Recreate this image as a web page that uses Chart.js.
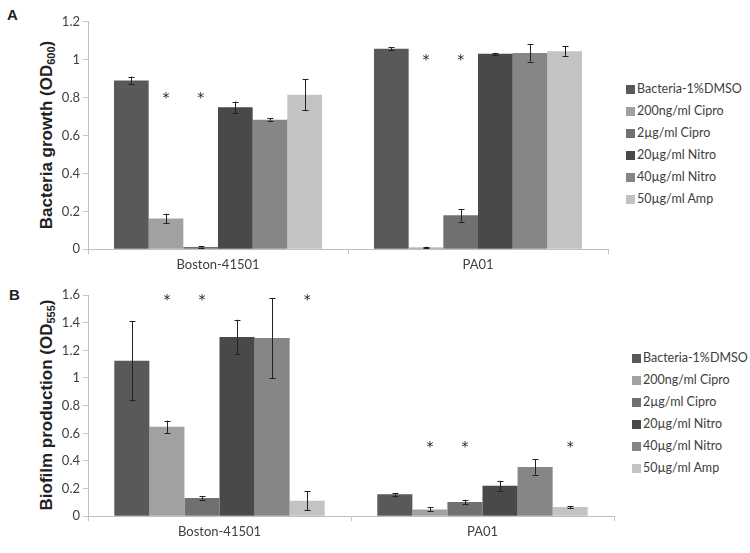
<!DOCTYPE html>
<html>
<head>
<meta charset="utf-8">
<script src="https://cdn.jsdelivr.net/npm/chart.js@4.4.0/dist/chart.umd.min.js"></script>
<style>
  body { margin: 0; background: #fff; width: 750px; height: 553px; position: relative; overflow: hidden; }
  canvas { position: absolute; left: 0; }
  #chartA { top: 0; }
  #chartB { top: 275px; }
  .panel { position: absolute; font-family: "Liberation Sans Narrow", "Liberation Sans", sans-serif; font-weight: bold; font-size: 15px; color: #222; }
  .ytitle { position: absolute; white-space: nowrap; transform: translate(-50%, -50%) rotate(-90deg);
            font-family: "Liberation Sans Narrow", "Liberation Sans", sans-serif; font-weight: bold; font-size: 17px; color: #222; }
  .ytitle sub { font-size: 11px; vertical-align: -3px; }
  .legend { position: absolute; font-family: Lato, sans-serif; font-size: 12.5px; color: #404040; }
  .legend div { height: 22px; line-height: 22px; white-space: nowrap; }
  .legend span { display: inline-block; width: 9px; height: 9px; margin-right: 2px; vertical-align: -1px; }
</style>
</head>
<body>
<div class="panel" style="left:7px; top:6px;">A</div>
<div class="panel" style="left:9px; top:286px;">B</div>
<div class="ytitle" style="left:47px; top:135px;">Bacteria growth (OD<sub>600</sub>)</div>
<div class="ytitle" style="left:47px; top:405px;">Biofilm production (OD<sub>555</sub>)</div>
<canvas id="chartA" width="620" height="275"></canvas>
<canvas id="chartB" width="626" height="278"></canvas>
<div class="legend" id="legendA" style="left:626px; top:78px;"></div>
<div class="legend" id="legendB" style="left:632px; top:347px;"></div>
<script>
const categories = ["Boston-41501", "PA01"];
const seriesNames = ["Bacteria-1%DMSO", "200ng/ml Cipro", "2\u00b5g/ml Cipro", "20\u00b5g/ml Nitro", "40\u00b5g/ml Nitro", "50\u00b5g/ml Amp"];
const seriesColors = ["#59595b", "#a0a1a3", "#707072", "#49494b", "#858688", "#c3c3c5"];

// panel A: bacteria growth
const growthValues = [[0.890, 1.058], [0.163, 0.010], [0.012, 0.179], [0.749, 1.031], [0.683, 1.035], [0.815, 1.044]];
const growthErrors = [[0.020, 0.006], [0.025, 0.004], [0.003, 0.033], [0.030, 0.005], [0.008, 0.045], [0.083, 0.026]];
const growthStars = [[null, null], [0.81, 1.01], [0.81, 1.01], [null, null], [null, null], [null, null]];
const growthTicks = [0, 0.2, 0.4, 0.6, 0.8, 1, 1.2];

// panel B: biofilm production
const biofilmValues = [[1.125, 0.159], [0.647, 0.050], [0.132, 0.104], [1.297, 0.221], [1.289, 0.357], [0.113, 0.067]];
const biofilmErrors = [[0.285, 0.010], [0.045, 0.015], [0.012, 0.015], [0.124, 0.035], [0.290, 0.056], [0.070, 0.008]];
const biofilmStars = [[null, null], [1.585, 0.52], [1.585, 0.52], [null, null], [null, null], [1.585, 0.52]];
const biofilmTicks = [0, 0.2, 0.4, 0.6, 0.8, 1, 1.2, 1.4, 1.6];

const tickFont = { family: "Lato, sans-serif", size: 13 };

// error bars and significance stars
const extrasPlugin = {
  id: "extras",
  afterDatasetsDraw(chart) {
    const ctx = chart.ctx;
    const y = chart.scales.y;
    chart.data.datasets.forEach((ds, i) => {
      const meta = chart.getDatasetMeta(i);
      meta.data.forEach((bar, j) => {
        const v = ds.data[j], e = ds.errors[j];
        const top = y.getPixelForValue(v + e), bot = y.getPixelForValue(v - e);
        ctx.save();
        ctx.strokeStyle = "#222";
        ctx.lineWidth = 1;
        ctx.beginPath();
        const x = Math.round(bar.x) + 0.5;
        ctx.moveTo(x, top); ctx.lineTo(x, bot);
        ctx.moveTo(x - 3, Math.round(top) + 0.5); ctx.lineTo(x + 3, Math.round(top) + 0.5);
        ctx.moveTo(x - 3, Math.round(bot) + 0.5); ctx.lineTo(x + 3, Math.round(bot) + 0.5);
        ctx.stroke();
        const s = ds.stars[j];
        if (s !== null) {
          ctx.fillStyle = "#222";
          ctx.font = "14px 'DejaVu Sans', sans-serif";
          ctx.textAlign = "center";
          ctx.textBaseline = "middle";
          ctx.fillText("*", bar.x, y.getPixelForValue(s) + 3);
        }
        ctx.restore();
      });
    });
  }
};

function makeChart(id, values, errors, stars, ticks, max, yWidth, xHeight, padTop, padRight) {
  return new Chart(document.getElementById(id), {
    type: "bar",
    data: {
      labels: categories,
      datasets: seriesNames.map((name, i) => ({
        label: name,
        data: values[i],
        errors: errors[i],
        stars: stars[i],
        backgroundColor: seriesColors[i],
        borderWidth: 0,
        categoryPercentage: 0.8,
        barPercentage: 1.0
      }))
    },
    options: {
      responsive: false,
      animation: false,
      layout: { padding: { top: padTop, right: padRight, left: 0, bottom: 0 } },
      plugins: { legend: { display: false }, tooltip: { enabled: false } },
      scales: {
        x: {
          grid: { display: true, drawOnChartArea: false, drawTicks: true, tickLength: 5, color: "#c6c6c6" },
          border: { color: "#bfbfbf" },
          ticks: { font: tickFont, color: "#404040", padding: 3 },
          afterFit(scale) { scale.height = xHeight; }
        },
        y: {
          min: 0,
          max: max,
          afterBuildTicks(scale) { scale.ticks = ticks.map(v => ({ value: v })); },
          grid: { display: true, drawOnChartArea: false, drawTicks: true, tickLength: 5, color: "#c6c6c6" },
          border: { color: "#bfbfbf" },
          ticks: { font: tickFont, color: "#404040", padding: 3, callback: v => String(v) },
          afterFit(scale) { scale.width = yWidth; }
        }
      }
    },
    plugins: [extrasPlugin]
  });
}

makeChart("chartA", growthValues, growthErrors, growthStars, growthTicks, 1.2, 88, 25.7, 21.7, 12);
makeChart("chartB", biofilmValues, biofilmErrors, biofilmStars, biofilmTicks, 1.6, 88, 36.7, 20, 12);

function buildLegend(id) {
  const el = document.getElementById(id);
  seriesNames.forEach((name, i) => {
    const row = document.createElement("div");
    const box = document.createElement("span");
    box.style.background = seriesColors[i];
    row.appendChild(box);
    row.appendChild(document.createTextNode(name));
    el.appendChild(row);
  });
}
buildLegend("legendA");
buildLegend("legendB");
</script>
</body>
</html>
